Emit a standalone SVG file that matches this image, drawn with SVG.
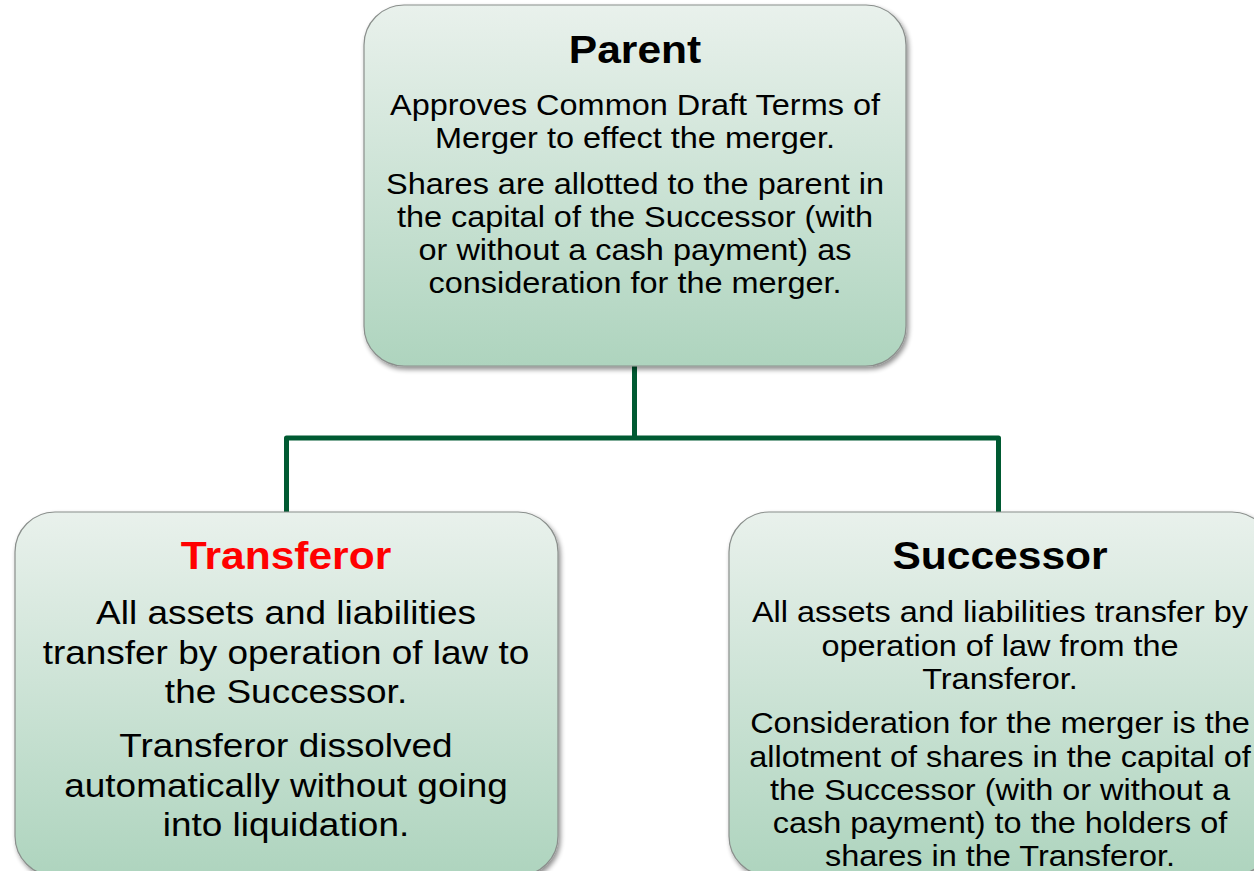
<svg xmlns="http://www.w3.org/2000/svg" width="1254" height="871" viewBox="0 0 1254 871">
  <defs>
    <linearGradient id="boxFill" x1="0" y1="0" x2="0" y2="1">
      <stop offset="0" stop-color="#e9f1ec"/>
      <stop offset="1" stop-color="#aed4be"/>
    </linearGradient>
    <filter id="shadow" x="-10%" y="-10%" width="120%" height="125%">
      <feGaussianBlur in="SourceAlpha" stdDeviation="2.5"/>
      <feOffset dx="2" dy="3" result="b"/>
      <feComponentTransfer><feFuncA type="linear" slope="0.45"/></feComponentTransfer>
      <feMerge><feMergeNode/><feMergeNode in="SourceGraphic"/></feMerge>
    </filter>
  </defs>
  <style>
    .box { fill: url(#boxFill); stroke: #8a8f8c; stroke-width: 1.2; filter: url(#shadow); }
    .title { font-family: "Liberation Sans", Arial, sans-serif; font-weight: bold; font-size: 38px; text-anchor: middle; fill: #000; }
    .body { font-family: "Liberation Sans", Arial, sans-serif; font-size: 29px; text-anchor: middle; fill: #000; }
    .big { font-size: 33px; }
    .red { fill: #ff0000; }
    .link { fill: none; stroke: #005a32; stroke-width: 5; stroke-linejoin: round; }
  </style>
  <rect width="1254" height="871" fill="#ffffff"/>

  <g id="connectors">
    <path class="link" d="M634.5 366 V438 M286.5 512 V438 H998.5 V512"/>
  </g>

  <g id="parent">
    <rect class="box" x="364" y="5" width="542" height="361" rx="40" ry="40"/>
    <g transform="translate(635 0) scale(1.12 1)">
      <text class="title" x="0" y="63">Parent</text>
      <text class="body" x="0" y="115">Approves Common Draft Terms of</text>
      <text class="body" x="0" y="148">Merger to effect the merger.</text>
      <text class="body" x="0" y="194">Shares are allotted to the parent in</text>
      <text class="body" x="0" y="227">the capital of the Successor (with</text>
      <text class="body" x="0" y="260">or without a cash payment) as</text>
      <text class="body" x="0" y="293">consideration for the merger.</text>
    </g>
  </g>

  <g id="transferor">
    <rect class="box" x="15" y="512" width="543" height="364" rx="40" ry="40"/>
    <g transform="translate(286 0) scale(1.12 1)">
      <text class="title red" x="0" y="569">Transferor</text>
      <text class="body big" x="0" y="624">All assets and liabilities</text>
      <text class="body big" x="0" y="664">transfer by operation of law to</text>
      <text class="body big" x="0" y="703">the Successor.</text>
      <text class="body big" x="0" y="757">Transferor dissolved</text>
      <text class="body big" x="0" y="797">automatically without going</text>
      <text class="body big" x="0" y="836">into liquidation.</text>
    </g>
  </g>

  <g id="successor">
    <rect class="box" x="729" y="512" width="543" height="364" rx="40" ry="40"/>
    <g transform="translate(1000 0) scale(1.12 1)">
      <text class="title" x="0" y="569">Successor</text>
      <text class="body" x="0" y="622">All assets and liabilities transfer by</text>
      <text class="body" x="0" y="656">operation of law from the</text>
      <text class="body" x="0" y="689">Transferor.</text>
      <text class="body" x="0" y="733">Consideration for the merger is the</text>
      <text class="body" x="0" y="767">allotment of shares in the capital of</text>
      <text class="body" x="0" y="800">the Successor (with or without a</text>
      <text class="body" x="0" y="833">cash payment) to the holders of</text>
      <text class="body" x="0" y="866">shares in the Transferor.</text>
    </g>
  </g>
</svg>
